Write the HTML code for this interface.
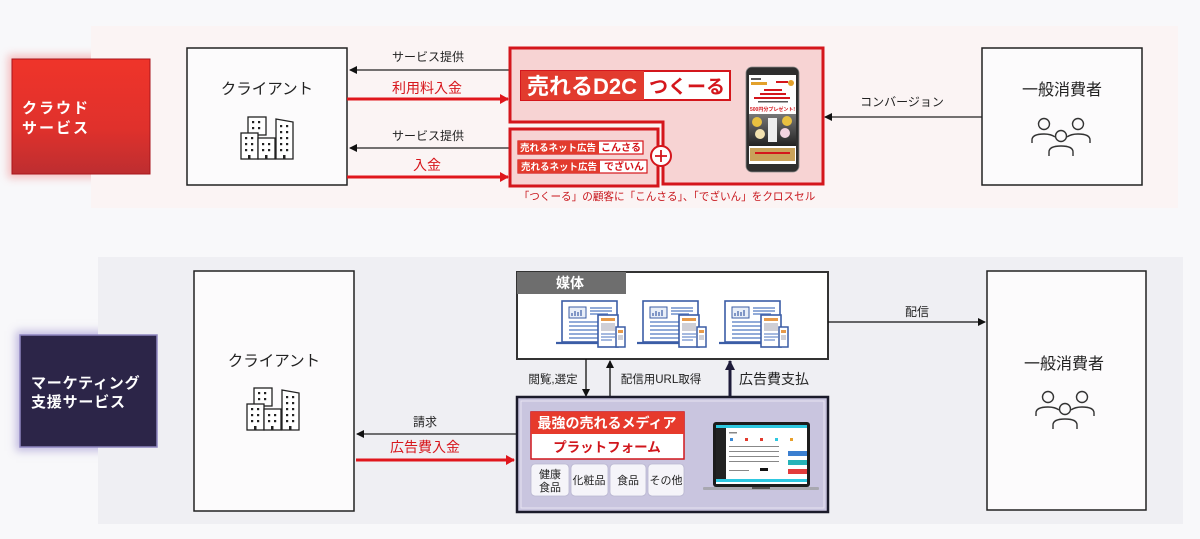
<!DOCTYPE html>
<html><head><meta charset="utf-8">
<style>
html,body{margin:0;padding:0;}
body{width:1200px;height:539px;background:#f8f8fa;position:relative;overflow:hidden;font-family:"Liberation Sans","Noto Sans CJK JP",sans-serif;}
.glowR{position:absolute;left:12px;top:59px;width:138px;height:115px;box-shadow:0 0 8px 4px rgba(240,120,120,0.45);}
.glowP{position:absolute;left:20px;top:335px;width:137px;height:112px;box-shadow:0 0 8px 4px rgba(140,125,200,0.5);}
svg{position:absolute;left:0;top:0;}
</style></head><body>
<div class="glowR"></div>
<div class="glowP"></div>
<svg width="1200" height="539" viewBox="0 0 1200 539" xmlns="http://www.w3.org/2000/svg" font-family="Liberation Sans, Noto Sans CJK JP, sans-serif">
<defs>
<linearGradient id="rg" x1="0" y1="0" x2="0" y2="1">
<stop offset="0" stop-color="#ef342a"/><stop offset="0.6" stop-color="#e0312c"/><stop offset="1" stop-color="#bd2e30"/>
</linearGradient>
<linearGradient id="ph" x1="0" y1="0" x2="0" y2="1">
<stop offset="0" stop-color="#777"/><stop offset="1" stop-color="#222"/>
</linearGradient>
<marker id="ab" markerWidth="8" markerHeight="8" refX="7" refY="4" orient="auto" markerUnits="userSpaceOnUse">
<path d="M0,0 L8,4 L0,8 Z" fill="#111"/></marker>
<marker id="ar" markerWidth="9" markerHeight="10" refX="8" refY="5" orient="auto" markerUnits="userSpaceOnUse">
<path d="M0,0 L9,5 L0,10 Z" fill="#e0161c"/></marker>
<marker id="an" markerWidth="10" markerHeight="10" refX="9" refY="5" orient="auto" markerUnits="userSpaceOnUse">
<path d="M0,0 L10,5 L0,10 Z" fill="#1e1b3a"/></marker>
<g id="bld" stroke="#222" stroke-width="1.3" fill="#fff">
<rect x="248" y="117" width="18" height="18"/>
<rect x="241" y="133" width="17" height="26"/>
<rect x="258" y="138" width="17" height="21"/>
<polygon points="276,119 293,122 293,159 276,159"/>
<g fill="#222" stroke="none">
<rect x="252" y="121" width="2.2" height="2.2"/><rect x="258" y="121" width="2.2" height="2.2"/>
<rect x="252" y="127" width="2.2" height="2.2"/><rect x="258" y="127" width="2.2" height="2.2"/>
<rect x="245" y="137" width="2.2" height="2.2"/><rect x="251" y="137" width="2.2" height="2.2"/>
<rect x="245" y="143" width="2.2" height="2.2"/><rect x="251" y="143" width="2.2" height="2.2"/>
<rect x="245" y="149" width="2.2" height="2.2"/><rect x="251" y="149" width="2.2" height="2.2"/>
<rect x="248" y="155" width="2.5" height="4"/>
<rect x="262" y="143" width="2.2" height="2.2"/><rect x="268" y="143" width="2.2" height="2.2"/>
<rect x="262" y="149" width="2.2" height="2.2"/><rect x="268" y="149" width="2.2" height="2.2"/>
<rect x="265" y="155" width="2.5" height="4"/>
<rect x="280" y="125" width="2.2" height="2.2"/><rect x="286" y="125" width="2.2" height="2.2"/>
<rect x="280" y="131" width="2.2" height="2.2"/><rect x="286" y="131" width="2.2" height="2.2"/>
<rect x="280" y="137" width="2.2" height="2.2"/><rect x="286" y="137" width="2.2" height="2.2"/>
<rect x="280" y="143" width="2.2" height="2.2"/><rect x="286" y="143" width="2.2" height="2.2"/>
<rect x="280" y="149" width="2.2" height="2.2"/><rect x="286" y="149" width="2.2" height="2.2"/>
<rect x="283" y="155" width="2.5" height="4"/>
</g></g>
<g id="ppl" stroke="#333" stroke-width="1.4" fill="none">
<circle cx="1044" cy="124" r="5.5"/>
<path d="M1032,143 V140 Q1032,134 1044,134 Q1051,134 1055,137"/>
<circle cx="1078" cy="124" r="5.5"/>
<path d="M1067,137 Q1071,134 1078,134 Q1090,134 1090,140 V143"/>
<circle cx="1061" cy="136" r="5.5"/>
<path d="M1049,156 V152 Q1049,146 1061,146 Q1073,146 1073,152 V156"/>
</g>
<g id="dev">
<rect x="0" y="0" width="55" height="41" fill="#fff" stroke="#3b5da6" stroke-width="1.6"/>
<rect x="7" y="6" width="17" height="11" fill="#e8eef8" stroke="#3b5da6" stroke-width="1"/>
<path d="M10,15 V12 M13,15 V10 M16,15 V11 M19,15 V9" stroke="#3b5da6" stroke-width="1.2"/>
<path d="M28,7 H50 M28,10 H50 M28,13 H46 M7,21 H40 M7,25 H40 M7,29 H38 M7,33 H40 M7,37 H36" stroke="#6f8fcc" stroke-width="1.5"/>
<path d="M-6,42 H48" stroke="#3b5da6" stroke-width="2.2"/>
<rect x="36" y="14" width="20" height="32" fill="#fff" stroke="#3b5da6" stroke-width="1.6"/>
<rect x="39" y="17" width="14" height="3" fill="#e79a4a"/>
<rect x="39" y="22" width="14" height="8" fill="#cfcfd6"/>
<path d="M39,33 H53 M39,36 H53 M39,39 H50" stroke="#6f8fcc" stroke-width="1.2"/>
<rect x="54" y="26" width="9" height="20" fill="#fff" stroke="#3b5da6" stroke-width="1.5"/>
<rect x="56" y="29" width="5" height="3" fill="#e79a4a"/>
<rect x="56" y="34" width="5" height="5" fill="#cfcfd6"/>
</g>
</defs>

<!-- TOP SECTION -->
<rect x="91" y="26" width="1087" height="182" fill="#fbf4f4"/>
<rect x="12" y="59" width="138" height="115" fill="url(#rg)" stroke="#a9151b" stroke-width="1"/>
<text x="22" y="113" font-size="15" font-weight="bold" fill="#fff" letter-spacing="2">クラウド</text>
<text x="22" y="133" font-size="15" font-weight="bold" fill="#fff" letter-spacing="2">サービス</text>

<rect x="187" y="48" width="160" height="137" fill="#fcfbfc" stroke="#222" stroke-width="1.5"/>
<text x="267" y="94" font-size="15.5" fill="#222" text-anchor="middle">クライアント</text>
<use href="#bld"/>

<text x="428" y="61" font-size="12" fill="#222" text-anchor="middle">サービス提供</text>
<line x1="510" y1="70" x2="350" y2="70" stroke="#222" stroke-width="1.2" marker-end="url(#ab)"/>
<text x="427" y="93" font-size="14" fill="#d7161c" text-anchor="middle">利用料入金</text>
<line x1="347" y1="99" x2="508" y2="99" stroke="#e0161c" stroke-width="3" marker-end="url(#ar)"/>
<text x="428" y="140" font-size="12" fill="#222" text-anchor="middle">サービス提供</text>
<line x1="510" y1="148" x2="350" y2="148" stroke="#222" stroke-width="1.2" marker-end="url(#ab)"/>
<text x="427" y="170" font-size="14" fill="#d7161c" text-anchor="middle">入金</text>
<line x1="347" y1="177" x2="508" y2="177" stroke="#e0161c" stroke-width="3" marker-end="url(#ar)"/>

<path d="M510,48 H823 V184 H663 V122 H510 Z" fill="#f7d3d3" stroke="#d4161c" stroke-width="3"/>
<rect x="510" y="129" width="148" height="57" fill="#f7d3d3" stroke="#d4161c" stroke-width="3"/>
<circle cx="661" cy="156" r="10" fill="#fff" stroke="#d4161c" stroke-width="2"/>
<path d="M655,156 H667 M661,150 V162" stroke="#d4161c" stroke-width="1.8"/>

<rect x="521" y="71" width="209" height="29" fill="#fff" stroke="#d4161c" stroke-width="2"/>
<rect x="521" y="71" width="123" height="29" fill="#e23b2e"/>
<text x="527" y="94" font-size="22" font-weight="bold" fill="#fff">売れるD2C</text>
<text x="687" y="93" font-size="19" font-weight="bold" fill="#d4161c" text-anchor="middle">つくーる</text>

<rect x="518" y="141" width="125" height="13" fill="#fff" stroke="#d4161c" stroke-width="1.2"/>
<rect x="518" y="141" width="81" height="13" fill="#e23b2e"/>
<text x="558" y="151" font-size="9.5" font-weight="bold" fill="#fff" text-anchor="middle">売れるネット広告</text>
<text x="621" y="151" font-size="10" font-weight="bold" fill="#d4161c" text-anchor="middle">こんさる</text>
<rect x="518" y="160" width="129" height="13" fill="#fff" stroke="#d4161c" stroke-width="1.2"/>
<rect x="518" y="160" width="82" height="13" fill="#e23b2e"/>
<text x="559" y="170" font-size="9.5" font-weight="bold" fill="#fff" text-anchor="middle">売れるネット広告</text>
<text x="624" y="170" font-size="10" font-weight="bold" fill="#d4161c" text-anchor="middle">でざいん</text>

<text x="667" y="200" font-size="10.6" fill="#c8161c" text-anchor="middle">「つくーる」の顧客に「こんさる」、「でざいん」をクロスセル</text>

<!-- phone -->
<rect x="746" y="67" width="53" height="105" rx="6" fill="#2e2e2e" stroke="#888" stroke-width="0.8"/>
<rect x="749" y="75" width="47" height="89" fill="#fff"/>
<rect x="751" y="78" width="10" height="2" fill="#555"/>
<rect x="751" y="82" width="16" height="3" fill="#e2a12b"/>
<rect x="776" y="81" width="12" height="2" fill="#d4161c"/>
<circle cx="791" cy="83" r="3" fill="#e2a12b"/>
<rect x="764" y="89" width="18" height="2" fill="#d4161c"/>
<rect x="760" y="93" width="26" height="2" fill="#d4161c"/>
<rect x="754" y="97" width="36" height="2" fill="#d4161c"/>
<rect x="758" y="101" width="30" height="1.5" fill="#555"/>
<text x="772.5" y="111" font-size="5" font-weight="bold" fill="#d4161c" text-anchor="middle">500円分プレゼント!</text>
<rect x="749" y="114" width="47" height="32" fill="url(#ph)"/>
<circle cx="757" cy="122" r="5" fill="#e8c040"/>
<circle cx="787" cy="121" r="5" fill="#e8c040"/>
<circle cx="760" cy="134" r="5" fill="#f3e2b0"/>
<circle cx="785" cy="133" r="5" fill="#f3d4e0"/>
<rect x="768" y="118" width="9" height="24" fill="#eee"/>
<rect x="750" y="148" width="45" height="13" fill="#c9a25a"/>
<rect x="755" y="152" width="35" height="2" fill="#d4161c"/>

<line x1="982" y1="117" x2="825" y2="117" stroke="#222" stroke-width="1.2" marker-end="url(#ab)"/>
<text x="902" y="106" font-size="12" fill="#222" text-anchor="middle">コンバージョン</text>

<rect x="982" y="48" width="160" height="137" fill="#fcfbfc" stroke="#222" stroke-width="1.5"/>
<text x="1062" y="95" font-size="16" fill="#222" text-anchor="middle">一般消費者</text>
<use href="#ppl"/>

<!-- BOTTOM SECTION -->
<rect x="98" y="257" width="1085" height="267" fill="#efeff3"/>
<rect x="20" y="335" width="137" height="112" fill="#2c2548" stroke="#8e86c0" stroke-width="1.5"/>
<text x="31" y="388" font-size="15" font-weight="bold" fill="#fff" letter-spacing="0.8">マーケティング</text>
<text x="31" y="407" font-size="15" font-weight="bold" fill="#fff" letter-spacing="0.8">支援サービス</text>

<rect x="194" y="271" width="160" height="240" fill="#fcfbfc" stroke="#222" stroke-width="1.5"/>
<text x="274" y="366" font-size="15.5" fill="#222" text-anchor="middle">クライアント</text>
<use href="#bld" transform="translate(6,271)"/>

<text x="425" y="426" font-size="12" fill="#222" text-anchor="middle">請求</text>
<line x1="517" y1="434" x2="357" y2="434" stroke="#222" stroke-width="1.2" marker-end="url(#ab)"/>
<text x="425" y="452" font-size="14" fill="#d7161c" text-anchor="middle">広告費入金</text>
<line x1="356" y1="460" x2="514" y2="460" stroke="#e0161c" stroke-width="3" marker-end="url(#ar)"/>

<!-- media -->
<rect x="517" y="272" width="311" height="87" fill="#fff" stroke="#333" stroke-width="2"/>
<rect x="517" y="272" width="109" height="22" fill="#6e6e6e"/>
<text x="570" y="288" font-size="14" font-weight="bold" fill="#fff" text-anchor="middle">媒体</text>
<use href="#dev" transform="translate(562,301)"/>
<use href="#dev" transform="translate(643,301)"/>
<use href="#dev" transform="translate(725,301)"/>

<line x1="586" y1="359" x2="586" y2="396" stroke="#111" stroke-width="1.3" marker-end="url(#ab)"/>
<text x="553" y="383" font-size="11.5" fill="#222" text-anchor="middle">閲覧,選定</text>
<line x1="610" y1="397" x2="610" y2="361" stroke="#111" stroke-width="1.3" marker-end="url(#ab)"/>
<text x="661" y="383" font-size="11.5" fill="#222" text-anchor="middle">配信用URL取得</text>
<line x1="730" y1="397" x2="730" y2="361" stroke="#1e1b3a" stroke-width="3" marker-end="url(#an)"/>
<text x="774" y="384" font-size="14" fill="#222" text-anchor="middle">広告費支払</text>

<!-- platform -->
<rect x="517" y="397" width="311" height="115" fill="#c9c5df" stroke="#1a1a2a" stroke-width="2.5"/>
<rect x="521" y="401" width="303" height="107" fill="none" stroke="#e6e4f2" stroke-width="1"/>
<rect x="531" y="412" width="153" height="47" fill="#fff" stroke="#d0161c" stroke-width="1.5"/>
<rect x="531" y="412" width="153" height="22" fill="#e63a2c"/>
<text x="607" y="428" font-size="14" font-weight="bold" fill="#fff" text-anchor="middle">最強の売れるメディア</text>
<text x="607" y="452" font-size="13.5" font-weight="bold" fill="#d0161c" text-anchor="middle">プラットフォーム</text>
<g fill="#f5f4f9" stroke="#b9b6d0" stroke-width="0.8">
<rect x="531" y="464" width="38" height="32" rx="4"/>
<rect x="571" y="464" width="37" height="32" rx="4"/>
<rect x="610" y="464" width="36" height="32" rx="4"/>
<rect x="648" y="464" width="36" height="32" rx="4"/>
</g>
<g font-size="11" fill="#222" text-anchor="middle">
<text x="550" y="478">健康</text><text x="550" y="491">食品</text>
<text x="589" y="484">化粧品</text>
<text x="628" y="484">食品</text>
<text x="666" y="484">その他</text>
</g>

<!-- laptop -->
<rect x="713" y="422" width="97" height="65" rx="3" fill="#1c1c1c"/>
<rect x="716" y="425" width="91" height="59" fill="#fff"/>
<rect x="716" y="425" width="91" height="3" fill="#2ec8e0"/>
<rect x="716" y="428" width="10" height="51" fill="#222"/>
<rect x="716" y="479" width="91" height="3" fill="#2ec8e0"/>
<g fill="#888">
<rect x="729" y="432" width="8" height="1.5"/>
<rect x="730" y="438" width="3" height="3" fill="#3b8ad6"/><rect x="745" y="438" width="3" height="3" fill="#e23b2e"/>
<rect x="760" y="438" width="3" height="3" fill="#e23b2e"/><rect x="775" y="438" width="3" height="3" fill="#2ec8e0"/>
<rect x="790" y="438" width="3" height="3" fill="#e8a02b"/>
<rect x="729" y="446" width="50" height="1"/><rect x="729" y="451" width="50" height="1"/>
<rect x="729" y="456" width="50" height="1"/><rect x="729" y="461" width="50" height="1"/>
<rect x="729" y="470" width="20" height="1"/><rect x="760" y="468" width="8" height="3" fill="#111"/>
</g>
<rect x="788" y="451" width="19" height="5" fill="#3b7fd0"/>
<rect x="788" y="460" width="19" height="5" fill="#26b3b8"/>
<rect x="788" y="469" width="19" height="5" fill="#e23b3b"/>
<rect x="703" y="487" width="116" height="3" rx="1" fill="#a8a8b0"/>
<rect x="752" y="487" width="18" height="2" fill="#555"/>

<line x1="828" y1="322" x2="985" y2="322" stroke="#111" stroke-width="1.3" marker-end="url(#ab)"/>
<text x="917" y="316" font-size="12" fill="#222" text-anchor="middle">配信</text>

<rect x="987" y="271" width="159" height="239" fill="#fcfbfc" stroke="#222" stroke-width="1.5"/>
<text x="1064" y="369" font-size="16" fill="#222" text-anchor="middle">一般消費者</text>
<use href="#ppl" transform="translate(4,273)"/>
</svg>
</body></html>
